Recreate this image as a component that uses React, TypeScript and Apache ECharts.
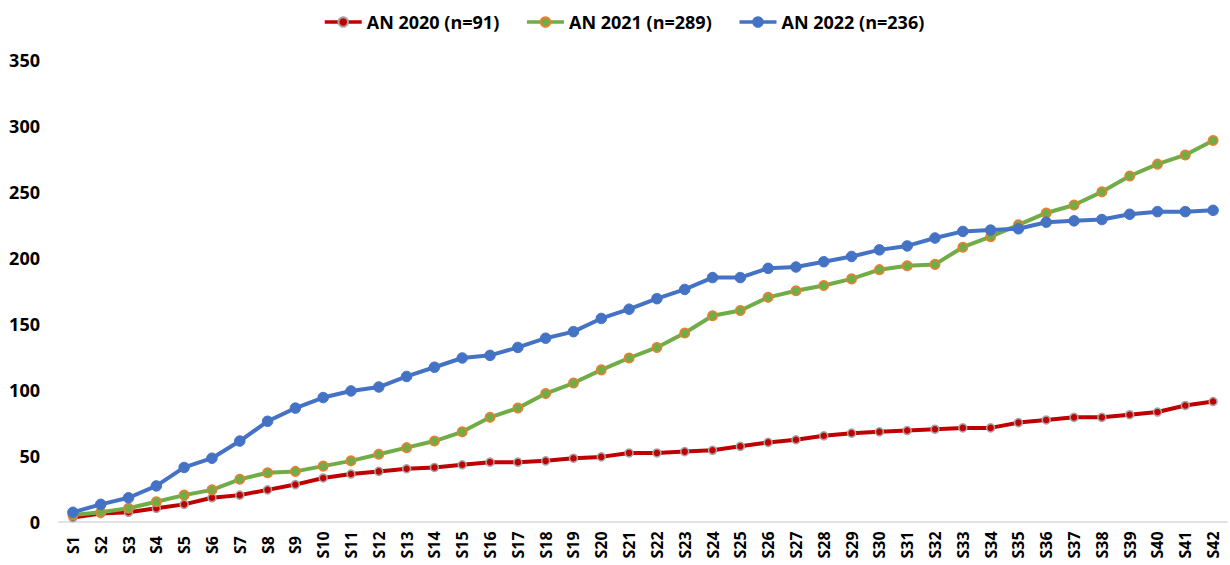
import React, { useEffect, useRef } from "react";
import * as echarts from "echarts";

const categories: string[] = Array.from({ length: 42 }, (_, i) => "S" + (i + 1));

const series2020: number[] = [
  3, 6, 7, 10, 13, 18, 20, 24, 28, 33, 36, 38, 40, 41, 43, 45, 45, 46, 48, 49, 52,
  52, 53, 54, 57, 60, 62, 65, 67, 68, 69, 70, 71, 71, 75, 77, 79, 79, 81, 83, 88, 91,
];
const series2021: number[] = [
  5, 7, 10, 15, 20, 24, 32, 37, 38, 42, 46, 51, 56, 61, 68, 79, 86, 97, 105, 115, 124,
  132, 143, 156, 160, 170, 175, 179, 184, 191, 194, 195, 208, 216, 225, 234, 240, 250, 262, 271, 278, 289,
];
const series2022: number[] = [
  7, 13, 18, 27, 41, 48, 61, 76, 86, 94, 99, 102, 110, 117, 124, 126, 132, 139, 144, 154, 161,
  169, 176, 185, 185, 192, 193, 197, 201, 206, 209, 215, 220, 221, 222, 227, 228, 229, 233, 235, 235, 236,
];

const seriesNames: string[] = ["AN 2020 (n=91)", "AN 2021 (n=289)", "AN 2022 (n=236)"];

const FONT = "'Open Sans', 'Noto Sans', sans-serif";

export default function App() {
  const ref = useRef<HTMLDivElement>(null);
  useEffect(() => {
    if (!ref.current) return;
    const chart = echarts.init(ref.current, undefined, { renderer: "svg" });
    chart.setOption({
      animation: false,
      backgroundColor: "#ffffff",
      legend: {
        top: 8,
        left: 318,
        itemWidth: 37,
        itemHeight: 12,
        itemGap: 26,
        lineStyle: { width: 3.5 },
        textStyle: { fontFamily: FONT, fontWeight: "bold", fontSize: 18, color: "#000" },
        data: seriesNames,
      },
      grid: { left: 59, right: 3, top: 60, bottom: 43.5, containLabel: false },
      xAxis: {
        type: "category",
        data: categories,
        boundaryGap: true,
        axisLine: { show: true, lineStyle: { color: "#D9D9D9", width: 1.5 } },
        axisTick: { show: false },
        axisLabel: {
          interval: 0,
          rotate: 90,
          align: "center",
          verticalAlign: "middle",
          margin: 23.5,
          fontFamily: FONT,
          fontWeight: "bold",
          fontSize: 16,
          color: "#000",
        },
        splitLine: { show: false },
      },
      yAxis: {
        type: "value",
        min: 0,
        max: 350,
        interval: 50,
        axisLine: { show: false },
        axisTick: { show: false },
        splitLine: { show: false },
        axisLabel: {
          margin: 19,
          fontFamily: FONT,
          fontWeight: "bold",
          fontSize: 18,
          color: "#000",
        },
      },
      series: [
        {
          name: seriesNames[0],
          type: "line",
          data: series2020,
          symbol: "circle",
          symbolSize: 8,
          lineStyle: { color: "#C00000", width: 4 },
          itemStyle: { color: "#C00000", borderColor: "#A5A5A5", borderWidth: 1.5 },
        },
        {
          name: seriesNames[1],
          type: "line",
          data: series2021,
          symbol: "circle",
          symbolSize: 9.5,
          lineStyle: { color: "#70AD47", width: 4 },
          itemStyle: { color: "#70AD47", borderColor: "#ED7D31", borderWidth: 1.5 },
        },
        {
          name: seriesNames[2],
          type: "line",
          data: series2022,
          symbol: "circle",
          symbolSize: 10.5,
          lineStyle: { color: "#4472C4", width: 4 },
          itemStyle: { color: "#4472C4", borderColor: "#4472C4", borderWidth: 1 },
        },
      ],
    });
    return () => chart.dispose();
  }, []);
  return (
    <div
      ref={ref}
      style={{ position: "fixed", left: 0, top: 0, width: 1230, height: 565, background: "#fff" }}
    />
  );
}
